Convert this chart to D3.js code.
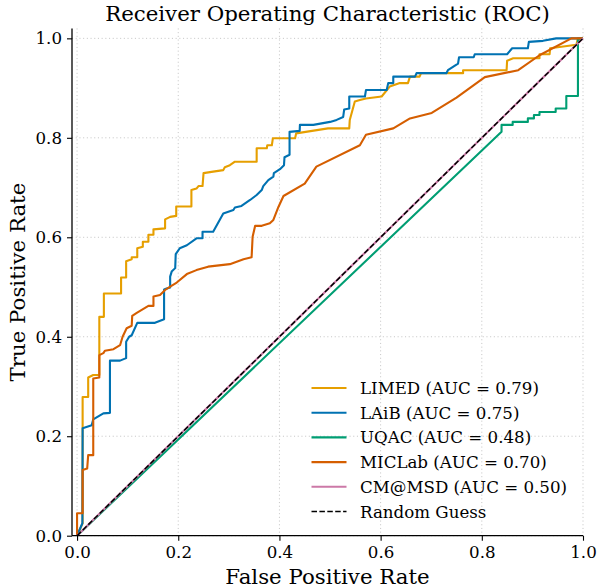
<!DOCTYPE html>
<html>
<head>
<meta charset="utf-8">
<script src="https://cdnjs.cloudflare.com/ajax/libs/d3/7.8.5/d3.min.js"></script>
<style>
	body { margin: 0; background: #fff; }
	svg { display: block; }
	text { font-family: "DejaVu Serif", serif; fill: #000; }
	.grid line { stroke: #c8c8c8; stroke-width: 1; stroke-dasharray: 1.1,2.6; }
	.axis path, .axis line { stroke: #000; }
</style>
</head>
<body>
<div id="chart"></div>
<script>

// ROC points: [false positive rate, true positive rate]
var limedRoc = [[0,0],[0.011,0.025],[0.011,0.279],[0.022,0.279],[0.022,0.318],[0.032,0.323],[0.044,0.323],[0.044,0.44],[0.053,0.44],[0.053,0.487],[0.087,0.487],[0.087,0.519],[0.097,0.519],[0.097,0.552],[0.108,0.556],[0.108,0.56],[0.119,0.56],[0.119,0.578],[0.13,0.581],[0.13,0.591],[0.141,0.591],[0.141,0.605],[0.151,0.605],[0.151,0.616],[0.174,0.618],[0.174,0.636],[0.184,0.641],[0.196,0.643],[0.196,0.662],[0.226,0.662],[0.226,0.695],[0.236,0.698],[0.24,0.703],[0.248,0.703],[0.25,0.729],[0.269,0.732],[0.289,0.735],[0.292,0.741],[0.302,0.745],[0.312,0.752],[0.355,0.752],[0.355,0.779],[0.375,0.779],[0.376,0.785],[0.385,0.785],[0.387,0.799],[0.431,0.799],[0.433,0.809],[0.496,0.819],[0.538,0.819],[0.539,0.836],[0.549,0.873],[0.559,0.876],[0.571,0.879],[0.602,0.883],[0.618,0.903],[0.638,0.91],[0.654,0.91],[0.658,0.923],[0.677,0.923],[0.68,0.93],[0.763,0.93],[0.763,0.936],[0.849,0.936],[0.85,0.955],[0.862,0.96],[0.914,0.96],[0.914,0.968],[0.934,0.968],[0.935,0.98],[0.987,0.987],[0.99,1],[1,1]];

var laibRoc = [[0,0],[0.0105,0.025],[0.011,0.216],[0.029,0.222],[0.032,0.234],[0.052,0.246],[0.065,0.247],[0.065,0.352],[0.085,0.352],[0.097,0.357],[0.097,0.39],[0.103,0.4],[0.108,0.403],[0.119,0.428],[0.154,0.428],[0.172,0.435],[0.172,0.495],[0.177,0.497],[0.184,0.499],[0.184,0.521],[0.187,0.531],[0.194,0.538],[0.195,0.566],[0.203,0.578],[0.217,0.584],[0.236,0.598],[0.248,0.598],[0.248,0.611],[0.269,0.611],[0.289,0.648],[0.309,0.655],[0.312,0.66],[0.325,0.663],[0.342,0.675],[0.355,0.685],[0.365,0.695],[0.368,0.703],[0.378,0.715],[0.388,0.722],[0.389,0.729],[0.401,0.737],[0.409,0.745],[0.41,0.761],[0.42,0.766],[0.42,0.812],[0.44,0.814],[0.4405,0.826],[0.467,0.826],[0.5,0.832],[0.513,0.836],[0.526,0.842],[0.528,0.857],[0.538,0.859],[0.538,0.883],[0.569,0.883],[0.571,0.896],[0.612,0.896],[0.615,0.91],[0.625,0.91],[0.625,0.923],[0.668,0.923],[0.671,0.93],[0.73,0.93],[0.733,0.936],[0.753,0.949],[0.755,0.962],[0.784,0.962],[0.786,0.968],[0.85,0.968],[0.86,0.98],[0.891,0.98],[0.893,0.993],[0.921,0.995],[0.947,1],[1,1]];

var uqacRoc = [[0,0],[0.839,0.812],[0.839,0.826],[0.861,0.826],[0.861,0.832],[0.891,0.832],[0.891,0.839],[0.903,0.839],[0.903,0.846],[0.914,0.846],[0.914,0.852],[0.946,0.852],[0.946,0.859],[0.967,0.859],[0.967,0.884],[0.99,0.884],[0.99,0.997],[1,1]];

var miclabRoc = [[0,0],[0,0.045],[0.011,0.045],[0.011,0.132],[0.02,0.135],[0.022,0.162],[0.032,0.162],[0.032,0.316],[0.044,0.318],[0.044,0.363],[0.052,0.367],[0.055,0.372],[0.072,0.375],[0.085,0.383],[0.09,0.4],[0.098,0.417],[0.108,0.422],[0.109,0.442],[0.118,0.448],[0.141,0.462],[0.151,0.462],[0.151,0.481],[0.164,0.484],[0.174,0.494],[0.184,0.501],[0.197,0.509],[0.217,0.526],[0.236,0.534],[0.259,0.541],[0.302,0.546],[0.329,0.556],[0.345,0.56],[0.347,0.601],[0.352,0.623],[0.365,0.623],[0.381,0.628],[0.388,0.635],[0.398,0.661],[0.408,0.683],[0.45,0.708],[0.473,0.742],[0.559,0.785],[0.571,0.806],[0.625,0.819],[0.658,0.839],[0.701,0.85],[0.75,0.881],[0.806,0.922],[0.872,0.936],[0.914,0.966],[0.977,1],[1,1]];

var cmmsdRoc = [[0,0],[1,1]];
var randomRoc = [[0,0],[1,1]];

var modelNames = ["LIMED", "LAiB", "UQAC", "MICLab", "CM@MSD"];
var modelAuc = ["0.79", "0.75", "0.48", "0.70", "0.50"];
var modelColors = ["#e69f00", "#0072b2", "#009e73", "#d55e00", "#cc79a7"];
var tickValues = [0, 0.2, 0.4, 0.6, 0.8, 1.0];

var Chart = function() {

	var margin, width, height, x, y, svg, plot;

	var initialize = function() {

		// axes box inside the 601x588 window
		margin = {top: 28.4, right: 18, bottom: 52.3, left: 72};
		width = 601 - margin.left - margin.right;
		height = 588 - margin.top - margin.bottom;

		x = d3.scaleLinear().domain([-0.01, 1.0]).range([0, width]);
		y = d3.scaleLinear().domain([0, 1.02]).range([height, 0]);

		svg = d3.select("#chart").append("svg")
		.attr("width", 601)
		.attr("height", 588);

		plot = svg.append("g")
		.attr("transform", "translate(" + margin.left + "," + margin.top + ")");

	}

	var render = function() {

		var line, curves, legend;

		// dotted grid
		var grid = plot.append("g").attr("class", "grid");
		grid.selectAll(".gx").data(tickValues).enter().append("line")
		.attr("x1", function(d) { return x(d); })
		.attr("x2", function(d) { return x(d); })
		.attr("y1", 0).attr("y2", height);
		grid.selectAll(".gy").data(tickValues).enter().append("line")
		.attr("x1", 0).attr("x2", width)
		.attr("y1", function(d) { return y(d); })
		.attr("y2", function(d) { return y(d); });

		line = d3.line()
		.x(function(d) { return x(d[0]); })
		.y(function(d) { return y(d[1]); });

		curves = [limedRoc, laibRoc, uqacRoc, miclabRoc, cmmsdRoc];

		plot.selectAll("path.roc")
		.data(curves)
		.enter()
		.append("path")
		.attr("class", "roc")
		.attr("d", line)
		.attr("fill", "none")
		.attr("stroke", function(d, i) { return modelColors[i]; })
		.attr("stroke-width", 2.1)
		.attr("stroke-linejoin", "round");

		// random guess diagonal
		plot.append("path")
		.attr("d", line(randomRoc))
		.attr("fill", "none")
		.attr("stroke", "#000")
		.attr("stroke-width", 1.5)
		.attr("stroke-dasharray", "5.5,2.4");

		// axes (left and bottom spines only)
		var xAxis = d3.axisBottom(x).tickValues(tickValues).tickFormat(d3.format(".1f")).tickSizeOuter(0).tickSize(5).tickPadding(5);
		var yAxis = d3.axisLeft(y).tickValues(tickValues).tickFormat(d3.format(".1f")).tickSizeOuter(0).tickSize(5).tickPadding(5);

		var gx = plot.append("g")
		.attr("class", "x axis")
		.attr("transform", "translate(0," + height + ")")
		.call(xAxis);
		gx.select(".domain").attr("d", "M0,0H" + width).attr("stroke-width", 1.3);
		gx.selectAll("line").attr("stroke-width", 1.1);
		gx.selectAll("text").attr("font-size", 16.67).attr("font-family", "DejaVu Serif");

		var gy = plot.append("g")
		.attr("class", "y axis")
		.call(yAxis);
		gy.select(".domain").attr("d", "M0," + height + "V0").attr("stroke-width", 1.3);
		gy.selectAll("line").attr("stroke-width", 1.1);
		gy.selectAll("text").attr("font-size", 16.67).attr("font-family", "DejaVu Serif");

		// titles
		svg.append("text")
		.attr("x", margin.left + width / 2)
		.attr("y", 21)
		.attr("text-anchor", "middle")
		.attr("font-size", 21.3)
		.text("Receiver Operating Characteristic (ROC)");

		svg.append("text")
		.attr("x", margin.left + width / 2)
		.attr("y", 584)
		.attr("text-anchor", "middle")
		.attr("font-size", 21.3)
		.text("False Positive Rate");

		svg.append("text")
		.attr("transform", "translate(24.5," + (margin.top + height / 2) + ")rotate(-90)")
		.attr("text-anchor", "middle")
		.attr("font-size", 21.3)
		.text("True Positive Rate");

		// legend, no frame
		var labels = modelNames.map(function(n, i) { return n + " (AUC = " + modelAuc[i] + ")"; });
		labels.push("Random Guess");

		legend = svg.append("g")
		.attr("transform", "translate(311.5,388)");

		var item = legend.selectAll("g")
		.data(labels)
		.enter()
		.append("g")
		.attr("transform", function(d, i) { return "translate(0," + i * 24.7 + ")"; });

		item.append("line")
		.attr("x1", 0).attr("x2", 35)
		.attr("stroke", function(d, i) { return i < 5 ? modelColors[i] : "#000"; })
		.attr("stroke-width", function(d, i) { return i < 5 ? 2.1 : 1.5; })
		.attr("stroke-dasharray", function(d, i) { return i < 5 ? null : "5.5,2.4"; });

		item.append("text")
		.attr("x", 48.5)
		.attr("y", 6)
		.attr("font-size", 16.67)
		.text(function(d) { return d; });

	}

	return {
		initialize: initialize,
		render: render
	}

};

var chart = Chart();
chart.initialize();
chart.render();

</script>
</body>
</html>
